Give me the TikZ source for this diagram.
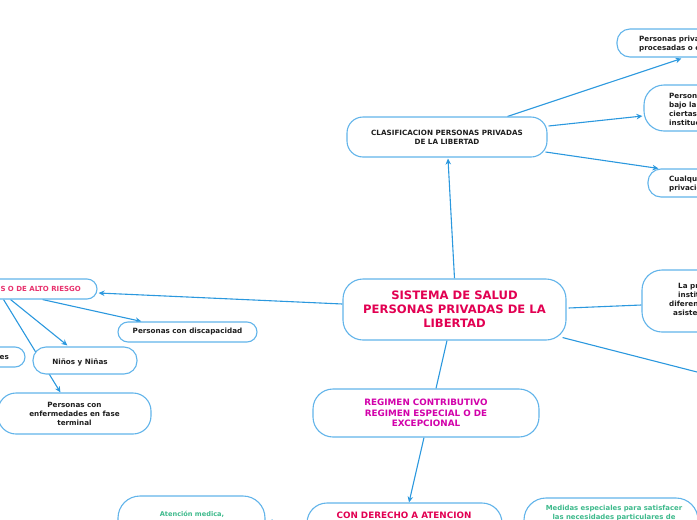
\documentclass[tikz,border=0pt]{standalone}
\usepackage{fontspec}
\setmainfont{DejaVu Sans}
\usetikzlibrary{calc,arrows.meta}
\pgfdeclarelayer{bg}
\pgfsetlayers{bg,main}
\definecolor{lineblue}{RGB}{43,152,222}
\definecolor{boxblue}{RGB}{98,180,234}
\definecolor{crim}{RGB}{226,0,82}
\definecolor{pinkt}{RGB}{232,50,110}
\definecolor{magt}{RGB}{210,0,170}
\definecolor{greent}{RGB}{62,186,140}
\definecolor{txt}{RGB}{30,30,30}
\tikzset{
  box/.style={draw=boxblue, line width=1.1pt, fill=white, rounded corners=#1, inner sep=0pt},
  box/.default=14pt,
  conn/.style={draw=lineblue, line width=1.1pt},
  arr/.style={conn, -{Stealth[length=6pt,width=5.5pt]}},
  sm/.style={font=\bfseries\fontsize{7.2}{9}\selectfont, text=txt, align=center},
  ln/.style={font=\bfseries\fontsize{7.2}{9}\selectfont, text=txt, anchor=base west, inner sep=0pt},
  gr/.style={font=\bfseries\fontsize{6.9}{9}\selectfont, text=greent, anchor=base, inner sep=0pt},
}
\begin{document}
\begin{tikzpicture}[x=1pt,y=-1pt]
\useasboundingbox (0,0) rectangle (697,520);
\begin{scope}
\clip (0,0) rectangle (697,520);
% central
\node[box=20pt, minimum width=223pt, minimum height=61pt, font=\bfseries\fontsize{11.6}{14}\selectfont, text=crim, align=center] (central) at (454.5,309.5) {SISTEMA DE SALUD\\PERSONAS PRIVADAS DE LA\\LIBERTAD};
% clasificacion
\node[box=16pt, minimum width=200pt, minimum height=40pt, sm] (clas) at (447,137) {CLASIFICACION PERSONAS PRIVADAS\\DE LA LIBERTAD};
% right partial boxes
\node[box=13pt, minimum width=173pt, minimum height=28pt] (pp1) at (703.5,43) {};
\node[ln] (pp1a) at (639,41.5) {Personas priva};
\node[ln] (pp1b) at (639,50.5) {procesadas o c};
\node[box=20pt, minimum width=150pt, minimum height=46pt] (pp2) at (719,108) {};
\node[ln] (pp2a) at (669,98.5) {Persona};
\node[ln] (pp2b) at (669,107.5) {bajo la};
\node[ln] (pp2c) at (669,116.5) {ciertas};
\node[ln] (pp2d) at (669,125.5) {instituc};
\node[box=13pt, minimum width=150pt, minimum height=28pt] (pp3) at (723,183) {};
\node[ln] (pp3a) at (669,181.5) {Cualqui};
\node[ln] (pp3b) at (669,190.5) {privacio};
\node[box=20pt, minimum width=150pt, minimum height=62pt] (pp4) at (717,301) {};
\node[ln] (pp4a) at (678,288.5) {La pr};
\node[ln] (pp4b) at (678,297.5) {instit};
\node[ln] (pp4c) at (669,306.5) {diferen};
\node[ln] (pp4d) at (673,315.5) {asiste};
% left group
\node[box=10pt, minimum width=197pt, minimum height=20pt] (pink) at (-1.5,289) {};
\node[font=\bfseries\fontsize{7}{9}\selectfont, text=pinkt, anchor=base east, inner sep=0pt] (pinktxt) at (81,291.5) {S O DE ALTO RIESGO};
\node[box=10pt, minimum width=139pt, minimum height=20pt, sm] (disc) at (187.5,332) {Personas con discapacidad};
\node[box=13pt, minimum width=104pt, minimum height=27pt] (nin) at (85,360.5) {};
\node[sm, inner sep=0pt] (nintxt) at (80,362) {Niños y Niñas};
\node[box=10pt, minimum width=105pt, minimum height=20pt] (es) at (-27.5,357) {};
\node[ln, anchor=base east] (estxt) at (9,359.5) {es};
\node[box=18pt, minimum width=153pt, minimum height=41pt, sm] (enf) at (74.5,413.5) {Personas con\\enfermedades en fase\\terminal};
% regimen
\node[box=20pt, minimum width=226pt, minimum height=48pt, font=\bfseries\fontsize{8.8}{10.7}\selectfont, text=magt, align=center] (reg) at (426,413) {REGIMEN CONTRIBUTIVO\\REGIMEN ESPECIAL O DE\\EXCEPCIONAL};
% bottom
\node[box=20pt, minimum width=195pt, minimum height=57pt] (der) at (404.5,531.5) {};
\node[font=\bfseries\fontsize{8.8}{10.7}\selectfont, text=crim, anchor=base, inner sep=0pt] (dertxt) at (404,518.2) {CON DERECHO A ATENCION};
\node[box=22pt, minimum width=147pt, minimum height=64pt] (aten) at (191.5,528) {};
\node[gr, font=\bfseries\fontsize{6.6}{9}\selectfont] (atentxt) at (192,516.5) {Atención medica,};
\node[box=22pt, minimum width=174pt, minimum height=62pt] (med) at (611,529) {};
\node[gr] (meda) at (614,510.5) {Medidas especiales para satisfacer};
\node[gr] (medb) at (614,519.5) {las necesidades particulares de};
\end{scope}
\begin{pgfonlayer}{bg}
\clip (0,0) rectangle (697,520);
\draw[arr] (central.north) -- ($(clas.south)+(1,1)$);
\draw[arr] ($(clas.north west)+(161,0)$) -- ($(pp1.south west)+(65,1)$);
\draw[arr] ($(clas.east)+(1,-11)$) -- ($(pp2.west)+(-1,8)$);
\draw[arr] ($(clas.east)+(-2,15)$) -- ($(pp3.north west)+(11,0)$);
\draw[arr] ($(central.west)+(0,-5.5)$) -- ($(pink.east)+(1,4)$);
\draw[arr] ($(pink.south east)+(-55,0)$) -- ($(disc.north west)+(24,0)$);
\draw[arr] ($(pink.south east)+(-87,0)$) -- ($(nin.north west)+(35,-1)$);
\draw[arr] ($(pink.south east)+(-94,0)$) -- ($(enf.north west)+(63,0)$);
\draw[conn] ($(central.south)+(-7.5,0)$) -- ($(reg.north)+(10,0)$);
\draw[arr] ($(reg.south)+(-2,0)$) -- ($(der.north)+(4.5,0)$);
\draw[conn] ($(central.east)+(2,-1.5)$) -- ($(pp4.west)+(0,4)$);
\coordinate (offr) at (740,383);
\draw[conn] ($(central.south east)+(-4,-3)$) -- (offr);
\draw[arr] ($(der.west)+(0,-9)$) -- ($(aten.east)+(1,-6)$);
\end{pgfonlayer}
\end{tikzpicture}
\end{document}
